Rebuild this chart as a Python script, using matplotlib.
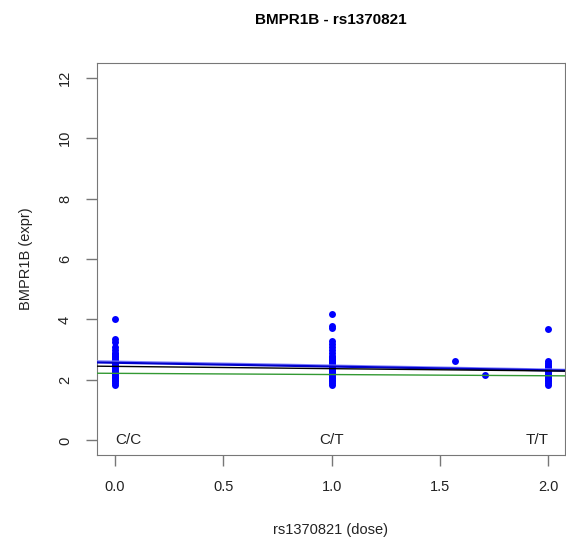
import matplotlib
matplotlib.use("agg")
import matplotlib.pyplot as plt
import numpy as np

# expression values per genotype group
cc_expr = [4.03, 3.35, 3.25, 3.1, 3.0, 2.9, 2.85, 2.8, 2.75, 2.7, 2.65, 2.6, 2.55, 2.5,
           2.45, 2.4, 2.35, 2.3, 2.25, 2.2, 2.15, 2.1, 2.05, 2.0, 1.95, 1.9, 1.85]
ct_expr = [4.18, 3.78, 3.72, 3.3, 3.2, 3.1, 3.0, 2.9, 2.8, 2.75, 2.7, 2.65, 2.6, 2.55, 2.5,
           2.45, 2.4, 2.35, 2.3, 2.25, 2.2, 2.15, 2.1, 2.05, 2.0, 1.95, 1.9, 1.85]
tt_expr = [3.7, 2.62, 2.55, 2.5, 2.45, 2.4, 2.35, 2.3, 2.25, 2.2, 2.15, 2.1, 2.05, 2.0,
           1.95, 1.9, 1.85]
imputed_dose = [1.57, 1.71]
imputed_expr = [2.63, 2.15]

# fitted lines: (intercept, slope)
fits = {
    "light": (2.62, -0.13),
    "blue": (2.57, -0.125),
    "black": (2.45, -0.075),
    "green": (2.22, -0.04),
}
fit_colors = {"light": "#8080ff", "blue": "#0000cc", "black": "black", "green": "#339933"}

genotypes = ["C/C", "C/T", "T/T"]

plt.rcParams["font.family"] = ["Liberation Sans", "DejaVu Sans"]
fig = plt.figure(figsize=(5.66, 5.47), dpi=100)
ax = fig.add_axes([0.1714, 0.1682, 0.8266, 0.7166])

xs = np.concatenate([np.zeros(len(cc_expr)), np.ones(len(ct_expr)), np.full(len(tt_expr), 2.0),
                     imputed_dose])
ys = np.concatenate([cc_expr, ct_expr, tt_expr, imputed_expr])
ax.plot(xs, ys, "o", color="blue", markersize=5, markeredgewidth=0, zorder=3)

xline = np.array([-0.1, 2.1])
for name, (b0, b1) in fits.items():
    lw = 1.6 if name == "blue" else 1.0
    ax.plot(xline, b0 + b1 * xline, color=fit_colors[name], lw=lw, zorder=4)

ax.text(0, 0, genotypes[0], ha="left", va="center", fontsize=11, color="#222222")
ax.text(1, 0, genotypes[1], ha="center", va="center", fontsize=11, color="#222222")
ax.text(2, 0, genotypes[2], ha="right", va="center", fontsize=11, color="#222222")

ax.set_xlim(-0.083, 2.077)
ax.set_ylim(-0.48, 12.48)
ax.set_xticks([0, 0.5, 1.0, 1.5, 2.0])
ax.set_xticklabels(["0.0", "0.5", "1.0", "1.5", "2.0"])
ax.set_yticks(range(0, 13, 2))
ax.set_yticklabels([str(v) for v in range(0, 13, 2)], rotation=90, va="center")
for s in ax.spines.values():
    s.set_color("#777777")
ax.tick_params(colors="#777777", labelcolor="#222222", length=8, width=1, labelsize=10.5, pad=10)

ax.set_xlabel("rs1370821 (dose)", fontsize=10.5, labelpad=21, color="#222222")
ax.set_ylabel("BMPR1B (expr)", fontsize=10.5, labelpad=18, color="#222222")
ax.set_title("BMPR1B - rs1370821", fontsize=11, fontweight="bold", pad=28)

plt.savefig("out.png")
